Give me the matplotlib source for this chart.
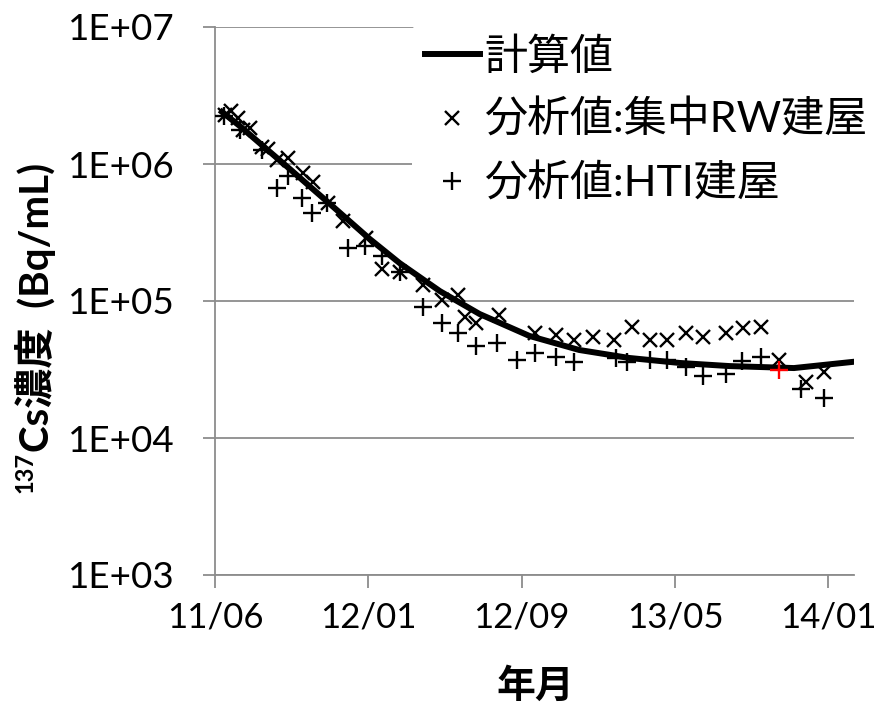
import matplotlib
matplotlib.use("Agg")
import matplotlib.pyplot as plt
import matplotlib.dates as mdates
import pandas as pd

###########################################################################################################################

# Donnees

# calcul (計算値)
calc_dates = ['2011-06-12', '2011-07-10', '2011-08-13', '2011-09-26', '2011-11-28', '2012-01-29',
              '2012-03-16', '2012-05-18', '2012-07-19', '2012-10-05', '2012-12-22', '2013-03-10',
              '2013-05-28', '2013-08-14', '2013-11-23', '2014-02-22']
calc_values = [2.40e6, 1.89e6, 1.38e6, 9.2e5, 5.10e5, 2.84e5,
               1.89e5, 1.18e5, 8.04e4, 5.56e4, 4.39e4, 3.84e4,
               3.53e4, 3.35e4, 3.24e4, 3.59e4]

# analyse : batiment RW centralise (集中RW建屋)
rw_dates = ['2011-06-17', '2011-06-26', '2011-07-07', '2011-07-15', '2011-07-26', '2011-08-13',
            '2011-08-23', '2011-09-06', '2011-09-23', '2011-10-16', '2011-11-01', '2011-11-25',
            '2011-12-18', '2012-01-24', '2012-02-18', '2012-03-16', '2012-04-21', '2012-05-21',
            '2012-06-15', '2012-06-26', '2012-07-14', '2012-08-19', '2012-10-13', '2012-11-16',
            '2012-12-14', '2013-01-12', '2013-02-15', '2013-03-15', '2013-04-11', '2013-05-09',
            '2013-06-07', '2013-07-04', '2013-08-09', '2013-09-05', '2013-10-03', '2013-10-31',
            '2013-12-12', '2014-01-09']
rw_values = [2.28e6, 2.44e6, 2.17e6, 1.77e6, 1.83e6, 1.33e6,
             1.29e6, 1.07e6, 1.11e6, 8.6e5, 7.4e5, 5.19e5,
             3.84e5, 2.88e5, 1.71e5, 1.63e5, 1.31e5, 1.02e5,
             1.11e5, 7.64e4, 6.9e4, 7.9e4, 5.84e4, 5.65e4,
             5.19e4, 5.46e4, 5.19e4, 6.46e4, 5.19e4, 5.19e4,
             5.84e4, 5.46e4, 5.84e4, 6.35e4, 6.46e4, 3.71e4,
             2.56e4, 3.03e4]

# analyse : batiment HTI (HTI建屋)
hti_dates = ['2011-06-15', '2011-07-10', '2011-08-13', '2011-09-23', '2011-09-06', '2011-10-15',
             '2011-10-31', '2011-11-23', '2011-12-26', '2012-01-21', '2012-02-17', '2012-03-16',
             '2012-04-21', '2012-05-21', '2012-06-15', '2012-07-14', '2012-08-16', '2012-09-15',
             '2012-10-13', '2012-11-16', '2012-12-14', '2013-02-18', '2013-03-07', '2013-04-11',
             '2013-05-09', '2013-06-07', '2013-07-04', '2013-08-09', '2013-09-03', '2013-10-03',
             '2013-10-31', '2013-12-04', '2014-01-09']
hti_values = [2.24e6, 1.77e6, 1.26e6, 8.17e5, 6.68e5, 5.65e5,
              4.39e5, 5.19e5, 2.44e5, 2.52e5, 2.13e5, 1.63e5,
              9.03e4, 6.9e4, 5.84e4, 4.7e4, 4.93e4, 3.71e4,
              4.17e4, 3.9e4, 3.59e4, 3.84e4, 3.59e4, 3.71e4,
              3.71e4, 3.3e4, 2.84e4, 2.93e4, 3.65e4, 3.9e4,
              3.13e4, 2.28e4, 1.96e4]
hti_red_date = '2013-10-31'   # point en rouge

# axe des x
x_start = '2011-06-01'
x_days = 1000
tick_step = 240
y_ticks = [1e3, 1e4, 1e5, 1e6, 1e7]
y_tick_labels = ['1E+03', '1E+04', '1E+05', '1E+06', '1E+07']

###########################################################################################################################

# Representation graphique

plt.rcParams['font.family'] = ['Lato', 'Noto Sans CJK JP', 'DejaVu Sans']

grey = '#8c8c8c'
W, H = 876, 707

fig = plt.figure(figsize=(W/100, H/100), dpi=100)
ax = fig.add_axes([215/W, 1-575/H, (854-215)/W, (575-27)/H])

calc_x = pd.to_datetime(calc_dates)
rw_x = pd.to_datetime(rw_dates)
hti_x = pd.to_datetime(hti_dates)
hti_y = pd.Series(hti_values, index=hti_x)
red = hti_x == pd.Timestamp(hti_red_date)

ax.plot(calc_x, calc_values, color='black', linewidth=4.3, label='計算値', zorder=3)
ax.plot(rw_x, rw_values, linestyle='none', marker='x', markersize=9.5, markeredgewidth=1.7,
        color='black', label='分析値:集中RW建屋', zorder=4)
ax.plot(hti_x[~red], hti_y.values[~red], linestyle='none', marker='+', markersize=13, markeredgewidth=1.7,
        color='black', label='分析値:HTI建屋', zorder=4)
ax.plot(hti_x[red], hti_y.values[red], linestyle='none', marker='+', markersize=13, markeredgewidth=1.7,
        color='red', zorder=5)

ax.set_yscale('log')
ax.set_ylim(1e3, 1e7)
ax.set_yticks(y_ticks)
ax.set_yticklabels(y_tick_labels)
ax.minorticks_off()

x0 = pd.Timestamp(x_start)
ax.set_xlim(x0, x0 + pd.Timedelta(days=x_days))
ax.set_xticks([x0 + pd.Timedelta(days=d) for d in range(0, x_days, tick_step)])
ax.xaxis.set_major_formatter(mdates.DateFormatter('%y/%m'))

ax.grid(True, axis='y', color=grey, linewidth=1.3)
ax.set_axisbelow(True)
for s in ['top', 'right']:
    ax.spines[s].set_visible(False)
for s in ['left', 'bottom']:
    ax.spines[s].set_color(grey)
    ax.spines[s].set_linewidth(1.3)
ax.tick_params(axis='both', colors=grey, length=9, width=1.3, labelcolor='black')
ax.tick_params(axis='y', pad=20, labelsize=26.5)
ax.tick_params(axis='x', pad=10, labelsize=25)

# titres des axes
fig.text(36/W, 1-452/H, 'Cs濃度  (Bq/mL)', rotation=90, ha='center', va='bottom',
         fontsize=29, fontweight='bold')
fig.text(25/W, 1-452/H, '137', rotation=90, ha='center', va='top',
         fontsize=17, fontweight='bold')
fig.text(535/W, 1-686/H, '年月', ha='center', va='center', fontsize=28, fontweight='bold')

leg = ax.legend(loc='upper left', bbox_to_anchor=(412/W, 1-24/H), bbox_transform=fig.transFigure,
                fontsize=31, frameon=True, facecolor='white', edgecolor='none', framealpha=1,
                handlelength=1.28, handletextpad=0.1, labelspacing=0.54, borderpad=0.3, borderaxespad=0)
leg.set_zorder(6)

plt.savefig('out.png', dpi=100)
